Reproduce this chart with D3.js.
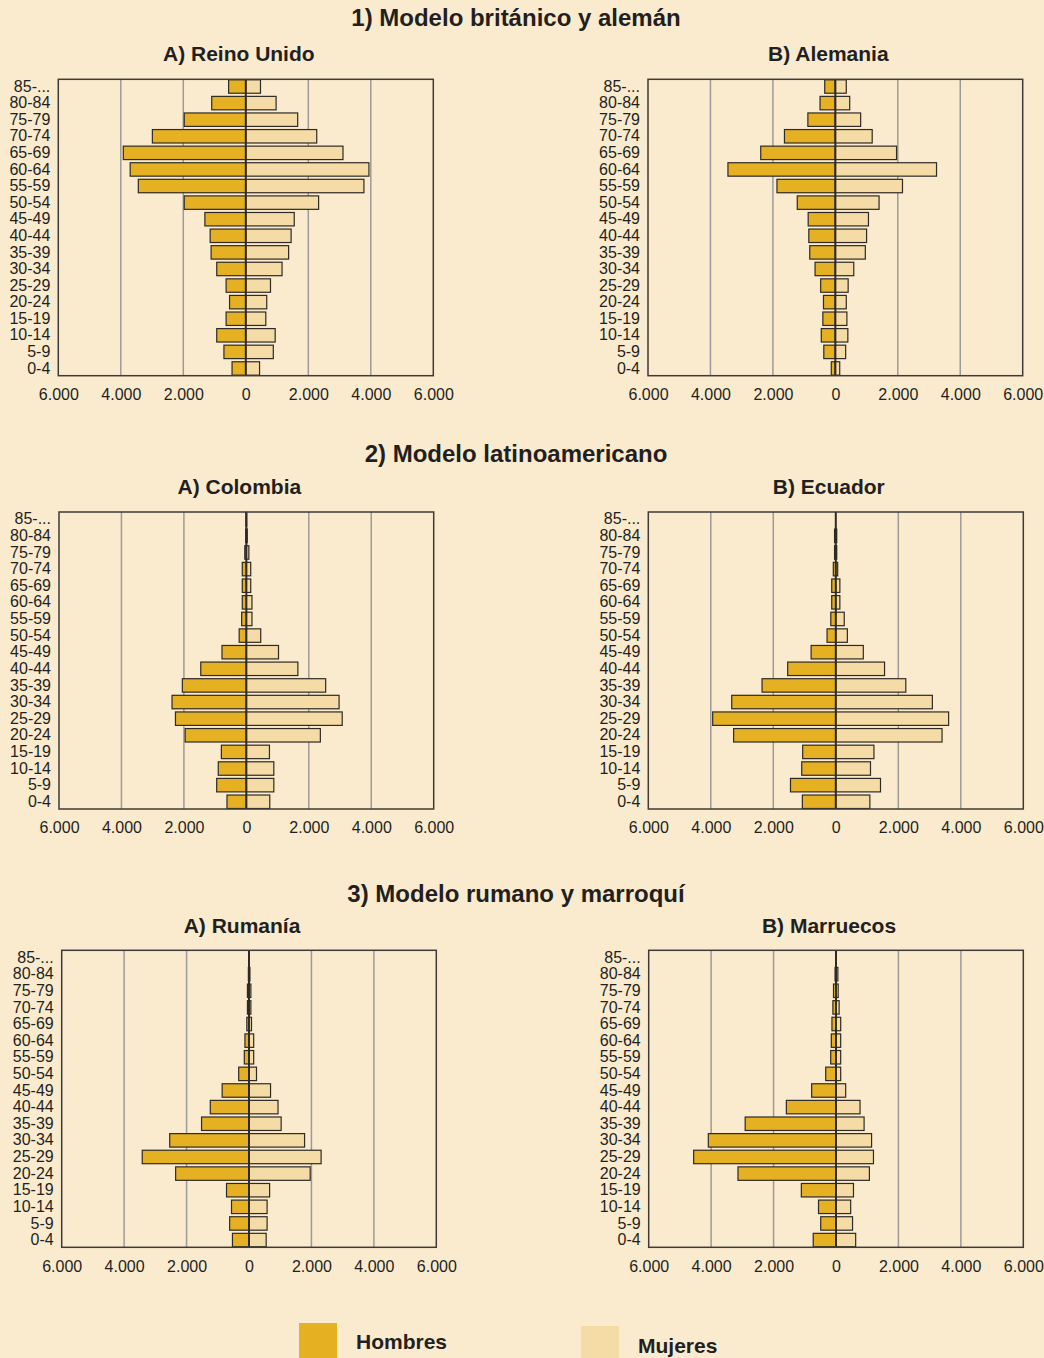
<!DOCTYPE html>
<html>
<head>
<meta charset="utf-8">
<script src="https://cdn.jsdelivr.net/npm/d3@7"></script>
<style>
  html, body { margin: 0; padding: 0; background: #faebcf; }
  svg { display: block; font-family: "Liberation Sans", Arial, sans-serif; }
</style>
</head>
<body>
<div id="chart"></div>
<script>
const width = 1044
const height = 1358

// age groups, top to bottom
const ageGroups = ['85-...', '80-84', '75-79', '70-74', '65-69', '60-64', '55-59', '50-54', '45-49',
  '40-44', '35-39', '30-34', '25-29', '20-24', '15-19', '10-14', '5-9', '0-4']

const xTicks = [-6000, -4000, -2000, 0, 2000, 4000, 6000]
const gridTicks = [-4000, -2000, 2000, 4000]

// values, same order as ageGroups
const ukMen = [550, 1090, 1970, 2990, 3920, 3700, 3440, 1970, 1310, 1140, 1110, 930, 630, 520, 630, 930, 700, 440]
const ukWomen = [470, 970, 1660, 2270, 3110, 3940, 3780, 2330, 1550, 1450, 1370, 1160, 790, 670, 640, 940, 880, 440]

const deMen = [340, 490, 880, 1630, 2390, 3440, 1870, 1220, 870, 850, 820, 650, 470, 380, 400, 450, 370, 130]
const deWomen = [350, 460, 810, 1180, 1960, 3240, 2150, 1400, 1060, 1000, 960, 590, 410, 350, 370, 400, 330, 140]

const coMen = [10, 20, 50, 130, 130, 130, 150, 230, 780, 1460, 2050, 2380, 2270, 1960, 800, 900, 950, 620]
const coWomen = [10, 30, 80, 140, 140, 180, 180, 460, 1030, 1650, 2540, 2970, 3070, 2370, 740, 880, 880, 750]

const ecMen = [0, 40, 40, 80, 130, 130, 160, 280, 790, 1540, 2360, 3330, 3940, 3270, 1060, 1090, 1450, 1070]
const ecWomen = [0, 30, 30, 60, 130, 130, 270, 370, 880, 1560, 2240, 3090, 3610, 3400, 1220, 1110, 1430, 1090]

const roMen = [0, 20, 50, 50, 70, 130, 150, 330, 860, 1240, 1520, 2540, 3420, 2350, 720, 560, 620, 530]
const roWomen = [0, 30, 60, 60, 80, 150, 150, 240, 690, 930, 1030, 1780, 2310, 1960, 660, 580, 580, 550]

const maMen = [0, 30, 80, 100, 130, 150, 170, 330, 780, 1590, 2910, 4090, 4560, 3140, 1110, 560, 490, 730]
const maWomen = [0, 60, 70, 100, 150, 150, 150, 150, 310, 770, 900, 1140, 1200, 1070, 560, 470, 530, 630]

const groupTitles = ['1) Modelo británico y alemán', '2) Modelo latinoamericano', '3) Modelo rumano y marroquí']
const countries = ['A) Reino Unido', 'B) Alemania', 'A) Colombia', 'B) Ecuador', 'A) Rumanía', 'B) Marruecos']
const menSeries = [ukMen, deMen, coMen, ecMen, roMen, maMen]
const womenSeries = [ukWomen, deWomen, coWomen, ecWomen, roWomen, maWomen]
const legendLabels = ['Hombres', 'Mujeres']

const colours = { men: '#e5b022', women: '#f5dba5', bg: '#faebcf', text: '#231f20', grid: '#9c9a98', edge: '#2e2a26' }

// layout of each panel's plot box
const boxes = [
  { left: 58.3, right: 433.3, top: 79.3, bottom: 375.7 },
  { left: 648, right: 1022.7, top: 79.3, bottom: 375.7 },
  { left: 59, right: 433.7, top: 512, bottom: 809 },
  { left: 648.3, right: 1023.3, top: 512, bottom: 809 },
  { left: 61.7, right: 436.3, top: 950.3, bottom: 1247.3 },
  { left: 648.7, right: 1023.3, top: 950.3, bottom: 1247.3 }
]
const groupTitleY = [26, 461.5, 902]
const countryTitleY = [61, 61, 494, 494, 933, 933]

const fmt = d3.formatLocale({ decimal: ',', thousands: '.', grouping: [3], currency: ['', ''] }).format(',')

const svg = d3.select('#chart')
  .append('svg')
  .attr('width', width)
  .attr('height', height)

svg.append('rect')
  .attr('width', width)
  .attr('height', height)
  .attr('fill', colours.bg)

groupTitles.forEach((t, i) => {
  svg.append('text')
    .attr('x', 516)
    .attr('y', groupTitleY[i])
    .attr('text-anchor', 'middle')
    .attr('font-size', 24)
    .attr('font-weight', 'bold')
    .attr('fill', colours.text)
    .text(t)
})

countries.forEach((name, i) => {
  const b = boxes[i]
  const men = menSeries[i]
  const women = womenSeries[i]

  const x = d3.scaleLinear().domain([-6000, 6000]).range([b.left, b.right])
  const y = d3.scaleBand().domain(ageGroups).range([b.top, b.bottom]).paddingInner(0.19).paddingOuter(0.03)

  const g = svg.append('g')

  g.append('text')
    .attr('x', (b.left + b.right) / 2 - 7)
    .attr('y', countryTitleY[i])
    .attr('text-anchor', 'middle')
    .attr('font-size', 21)
    .attr('font-weight', 'bold')
    .attr('fill', colours.text)
    .text(name)

  g.selectAll('.grid')
    .data(gridTicks)
    .join('line')
    .attr('x1', d => x(d))
    .attr('x2', d => x(d))
    .attr('y1', b.top)
    .attr('y2', b.bottom)
    .attr('stroke', colours.grid)
    .attr('stroke-width', 1.5)

  g.selectAll('.men')
    .data(ageGroups)
    .join('rect')
    .attr('x', (d, j) => x(-men[j]))
    .attr('y', d => y(d))
    .attr('width', (d, j) => x(0) - x(-men[j]))
    .attr('height', y.bandwidth())
    .attr('fill', colours.men)
    .attr('stroke', colours.edge)
    .attr('stroke-width', 1.2)

  g.selectAll('.women')
    .data(ageGroups)
    .join('rect')
    .attr('x', x(0))
    .attr('y', d => y(d))
    .attr('width', (d, j) => x(women[j]) - x(0))
    .attr('height', y.bandwidth())
    .attr('fill', colours.women)
    .attr('stroke', colours.edge)
    .attr('stroke-width', 1.2)

  g.append('line')
    .attr('x1', x(0))
    .attr('x2', x(0))
    .attr('y1', b.top)
    .attr('y2', b.bottom)
    .attr('stroke', colours.edge)
    .attr('stroke-width', 2)

  g.append('rect')
    .attr('x', b.left)
    .attr('y', b.top)
    .attr('width', b.right - b.left)
    .attr('height', b.bottom - b.top)
    .attr('fill', 'none')
    .attr('stroke', '#3d3a37')
    .attr('stroke-width', 1.5)

  const xAxis = g.append('g')
    .attr('transform', `translate(0, ${b.bottom})`)
    .call(d3.axisBottom(x).tickValues(xTicks).tickSize(0).tickPadding(13).tickFormat(d => fmt(Math.abs(d))))
  xAxis.select('.domain').remove()
  xAxis.selectAll('text')
    .attr('font-size', 16)
    .attr('font-family', '"Liberation Sans", Arial, sans-serif')
    .attr('fill', colours.text)

  const yAxis = g.append('g')
    .attr('transform', `translate(${b.left}, 0)`)
    .call(d3.axisLeft(y).tickSize(0).tickPadding(8))
  yAxis.select('.domain').remove()
  yAxis.selectAll('text')
    .attr('font-size', 16)
    .attr('font-family', '"Liberation Sans", Arial, sans-serif')
    .attr('fill', colours.text)
})

// legend
const legendX = [299, 581]
const legendTop = [1323, 1326]
const legendTextY = [1349, 1353]
legendLabels.forEach((label, i) => {
  svg.append('rect')
    .attr('x', legendX[i])
    .attr('y', legendTop[i])
    .attr('width', 38)
    .attr('height', 40)
    .attr('fill', i === 0 ? colours.men : colours.women)
  svg.append('text')
    .attr('x', legendX[i] + 57)
    .attr('y', legendTextY[i])
    .attr('font-size', 21)
    .attr('font-weight', 'bold')
    .attr('fill', colours.text)
    .text(label)
})
</script>
</body>
</html>
